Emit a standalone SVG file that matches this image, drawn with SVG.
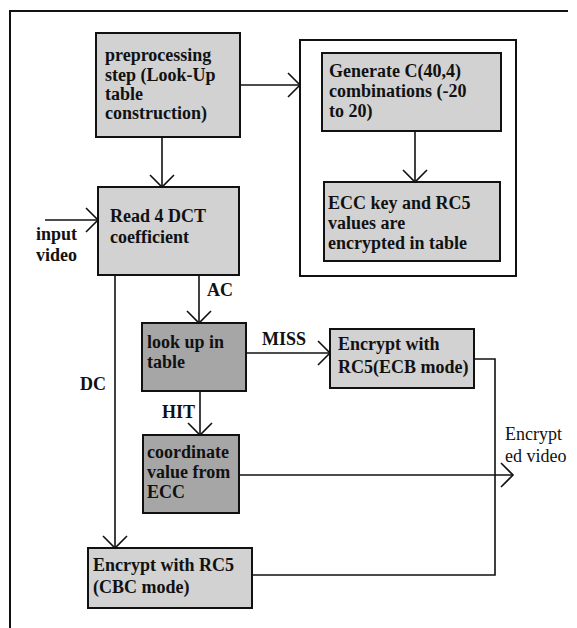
<svg xmlns="http://www.w3.org/2000/svg" width="577" height="628" viewBox="0 0 577 628">
<style>
  text { font-family: "Liberation Serif", "Times New Roman", serif; font-size: 18px; font-weight: bold; fill: #111; }
  .box { stroke: #111; stroke-width: 2; }
  .light { fill: #d2d2d2; }
  .dark { fill: #a6a6a6; }
  .frame { fill: none; stroke: #111; stroke-width: 2; }
  .conn { fill: none; stroke: #111; stroke-width: 1.6; }
  .thin { font-weight: normal; }
</style>
<defs>
  <marker id="arr" markerUnits="userSpaceOnUse" markerWidth="30" markerHeight="30" refX="0" refY="0" viewBox="-15 -15 30 30" orient="auto">
    <path d="M-12,-12 L0,0 L-12,12" fill="none" stroke="#111" stroke-width="1.6"/>
  </marker>
</defs>
<rect width="577" height="628" fill="#ffffff"/>
<g id="frame">
  <path class="frame" d="M10,628 V11 H568"/>
</g>
<g id="container">
  <rect class="frame" x="300" y="40" width="216" height="236" stroke-width="1.5"/>
</g>
<g id="preprocessing">
  <rect class="box light" x="96" y="33" width="144" height="104"/>
  <text x="105" y="61">preprocessing</text>
  <text x="105" y="81">step (Look-Up</text>
  <text x="105" y="100">table</text>
  <text x="105" y="119">construction)</text>
</g>
<g id="generate">
  <rect class="box light" x="322" y="53" width="179" height="78"/>
  <text x="329" y="77">Generate C(40,4)</text>
  <text x="329" y="97">combinations (-20</text>
  <text x="329" y="117">to 20)</text>
</g>
<g id="ecc">
  <rect class="box light" x="324" y="182" width="176" height="79"/>
  <text x="328" y="209">ECC key and RC5</text>
  <text x="328" y="229">values are</text>
  <text x="328" y="249">encrypted in table</text>
</g>
<g id="read">
  <rect class="box light" x="98" y="187" width="141" height="88"/>
  <text x="110" y="222">Read 4 DCT</text>
  <text x="110" y="243">coefficient</text>
</g>
<g id="lookup">
  <rect class="box dark" x="142" y="323" width="104" height="68"/>
  <text x="147" y="348">look up in</text>
  <text x="147" y="368">table</text>
</g>
<g id="coordinate">
  <rect class="box dark" x="143" y="435" width="96" height="78"/>
  <text x="147" y="458">coordinate</text>
  <text x="147" y="478">value from</text>
  <text x="147" y="498">ECC</text>
</g>
<g id="ecb">
  <rect class="box light" x="330" y="329" width="144" height="59"/>
  <text x="338" y="350">Encrypt with</text>
  <text x="338" y="373">RC5(ECB mode)</text>
</g>
<g id="cbc">
  <rect class="box light" x="88" y="548" width="164" height="60"/>
  <text x="93" y="571">Encrypt with RC5</text>
  <text x="93" y="593">(CBC mode)</text>
</g>
<g id="connectors">
  <path class="conn" d="M162,137 V187" marker-end="url(#arr)"/>
  <path class="conn" d="M240,85 H300" marker-end="url(#arr)"/>
  <path class="conn" d="M415,131 V182" marker-end="url(#arr)"/>
  <path class="conn" d="M45,220 H98" marker-end="url(#arr)"/>
  <path class="conn" d="M199,275 V323" marker-end="url(#arr)"/>
  <path class="conn" d="M246,353 H330" marker-end="url(#arr)"/>
  <path class="conn" d="M200,391 V435" marker-end="url(#arr)"/>
  <path class="conn" d="M115,275 V548" marker-end="url(#arr)"/>
  <path class="conn" d="M239,475 H513" marker-end="url(#arr)"/>
  <path class="conn" d="M474,359 H495 V575 H252"/>
</g>
<g id="labels">
  <text x="36" y="240">input</text>
  <text x="36" y="261">video</text>
  <text x="207" y="296">AC</text>
  <text x="262" y="345">MISS</text>
  <text x="162" y="418">HIT</text>
  <text x="80" y="390">DC</text>
  <text class="thin" x="505" y="440">Encrypt</text>
  <text class="thin" x="505" y="462">ed video</text>
</g>
</svg>
